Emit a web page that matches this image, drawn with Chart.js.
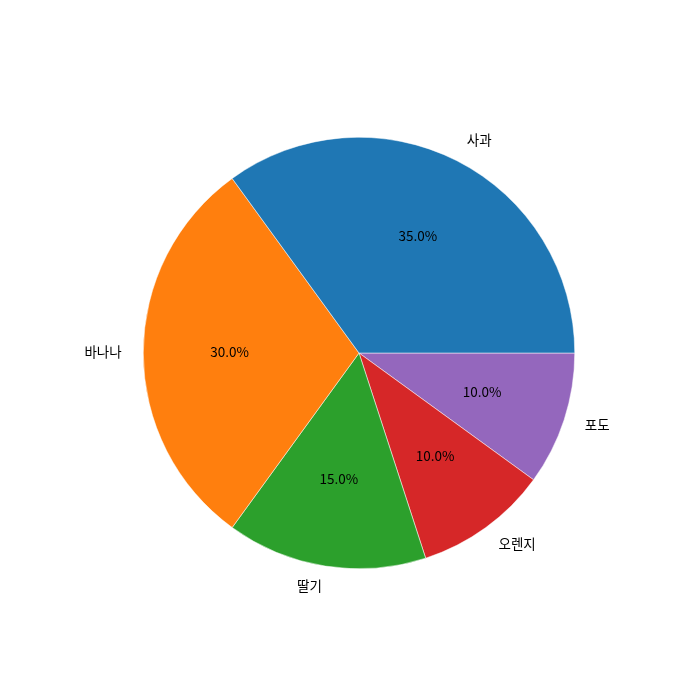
<!DOCTYPE html>
<html>
<head>
<meta charset="utf-8">
<script src="https://cdn.jsdelivr.net/npm/chart.js@4"></script>
<style>
  html, body { margin: 0; padding: 0; background: #fff; }
  canvas { display: block; }
</style>
</head>
<body>
<canvas id="pie" width="700" height="700"></canvas>
<script>
// matplotlib draws counterclockwise from 3 o'clock; chart.js goes clockwise,
// so the arrays are kept in reverse order and rotation starts at 90deg
const fruits = [`포도`, `오렌지`, `딸기`, `바나나`, `사과`];
const shares = [10, 10, 15, 30, 35];
const sliceColors = [`#9467bd`, `#d62728`, `#2ca02c`, `#ff7f0e`, `#1f77b4`];

const FONT = `"Noto Sans CJK KR", "DejaVu Sans", sans-serif`;

const pieLabels = {
  id: `pieLabels`,
  afterDatasetsDraw(chart) {
    const ctx = chart.ctx;
    const meta = chart.getDatasetMeta(0);
    const total = shares.reduce((a, b) => a + b, 0);
    ctx.save();
    ctx.fillStyle = `#000`;
    ctx.font = `13.5px ${FONT}`;
    ctx.textBaseline = `middle`;
    meta.data.forEach((arc, i) => {
      const {x, y, startAngle, endAngle, outerRadius} = arc.getProps([`x`, `y`, `startAngle`, `endAngle`, `outerRadius`], true);
      const mid = (startAngle + endAngle) / 2;
      const cx = Math.cos(mid);
      const cy = Math.sin(mid);
      // category label outside
      ctx.textAlign = cx > 0 ? `left` : `right`;
      ctx.fillText(fruits[i], x + cx * outerRadius * 1.1, y + cy * outerRadius * 1.1 - 1.5);
      // percent inside
      ctx.textAlign = `center`;
      const pct = (shares[i] / total * 100).toFixed(1) + `%`;
      ctx.fillText(pct, x + cx * outerRadius * 0.6, y + cy * outerRadius * 0.6 - 1.5);
    });
    ctx.restore();
  }
};

new Chart(document.getElementById(`pie`), {
  type: `pie`,
  plugins: [pieLabels],
  data: {
    labels: fruits,
    datasets: [{
      data: shares,
      backgroundColor: sliceColors,
      borderColor: `#ffffff`,
      borderWidth: 0.5,
    }]
  },
  options: {
    responsive: false,
    animation: false,
    rotation: 90,
    layout: {padding: {left: 143, right: 125, top: 137, bottom: 131}},
    plugins: {
      legend: {display: false},
      tooltip: {enabled: false},
    },
  },
});
</script>
</body>
</html>
